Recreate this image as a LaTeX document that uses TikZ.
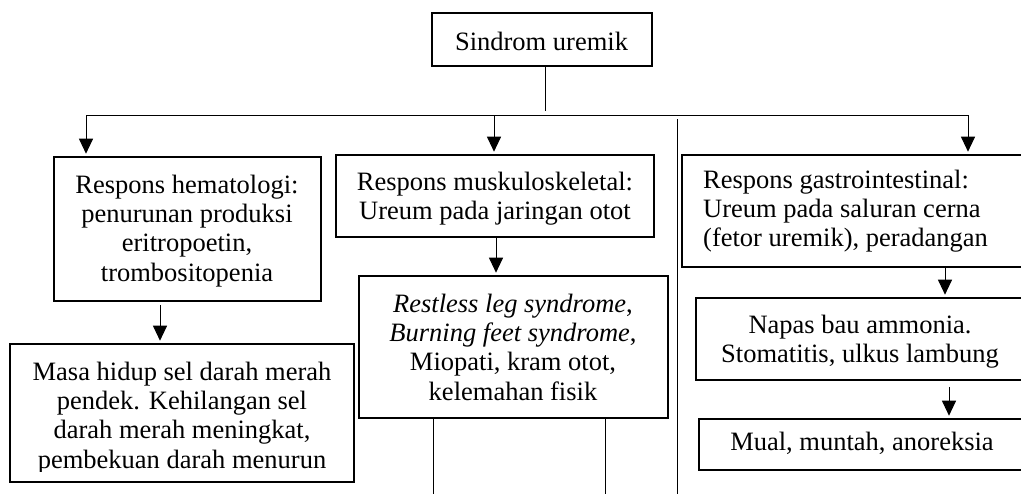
\documentclass[tikz,border=0pt]{standalone}
\usepackage{fontspec}
\setmainfont{Liberation Serif}
\usetikzlibrary{arrows.meta}
\begin{document}
\begin{tikzpicture}[x=1pt,y=-1pt,
  box/.style={draw, line width=1.6pt, inner sep=0pt},
  txt/.style={inner sep=0pt, anchor=north, align=center, font=\fontsize{26.5}{29.3}\selectfont},
  conn/.style={line width=1pt},
  arr/.style={line width=1pt, -{Triangle[width=14pt,length=15pt]}, shorten >=2.5pt}]
\useasboundingbox (0,0) rectangle (1021,498);
\clip (0,0) rectangle (1021,498);
\fill[white] (0,0) rectangle (1021,498);

% boxes
\node[box, minimum width=220pt, minimum height=53pt]  (top)    at (542,39.5) {};
\node[box, minimum width=267pt, minimum height=144pt] (hem)    at (187.5,229) {};
\node[box, minimum width=344pt, minimum height=138pt] (masa)   at (182,413) {};
\node[box, minimum width=318pt, minimum height=82pt]  (musk)   at (495,196) {};
\node[box, minimum width=309pt, minimum height=142pt] (rest)   at (513.5,347) {};
\node[box, minimum width=358pt, minimum height=112pt] (gastro) at (861,211) {};
\node[box, minimum width=344pt, minimum height=82pt]  (napas)  at (868,339) {};
\node[box, minimum width=341pt, minimum height=51pt]  (mual)   at (869.5,444.5) {};

% texts
\node[txt] (topt) at (541.5,29.5) {\strut Sindrom uremik};
\node[txt] (hemt) at (187,172.5) {\strut Respons hematologi:\\penurunan produksi\\eritropoetin,\\trombositopenia};
\begin{scope}
\clip (0,0) rectangle (1021,471);
\node[txt] (masat) at (182,359.5) {\strut Masa hidup sel darah merah\\pendek. Kehilangan sel\\darah merah meningkat,\\pembekuan darah menurun};
\end{scope}
\node[txt] (muskt) at (495,169.5) {\strut Respons muskuloskeletal:\\Ureum pada jaringan otot};
\node[txt] (restt) at (513,291.5) {\strut\textit{Restless leg syndrome},\\\textit{Burning feet syndrome},\\Miopati, kram otot,\\kelemahan fisik};
\node[txt, anchor=north west, align=left] (gastrot) at (703,167.5) {\strut Respons gastrointestinal:\\Ureum pada saluran cerna\\(fetor uremik), peradangan};
\node[txt] (napast) at (860,312.5) {\strut Napas bau ammonia.\\Stomatitis, ulkus lambung};
\node[txt] (mualt) at (862,429.5) {\strut Mual, muntah, anoreksia};

% helper coordinates
\coordinate (j) at (545,111);
\coordinate (hl) at (86,115);
\coordinate (hm) at (494,115);
\coordinate (hr) at (968,115);
\coordinate (x160) at (160,0);
\coordinate (x496) at (496,0);
\coordinate (x945) at (945,0);
\coordinate (x949) at (949,0);
\coordinate (r1) at (433,494);
\coordinate (r2) at (605,494);
\coordinate (s1) at (677,119);
\coordinate (s2) at (677,494);

% connectors
\draw[conn] (top.south -| j) -- (j);
\draw[conn] (hl) -- (hr);
\draw[arr] (hl) -- (hl |- hem.north);
\draw[arr] (hm) -- (hm |- musk.north);
\draw[arr] (hr) -- (hr |- gastro.north);
\draw[arr, shorten <=3pt] (hem.south -| x160) -- (masa.north -| x160);
\draw[arr] (musk.south -| x496) -- (rest.north -| x496);
\draw[arr] (gastro.south -| x945) -- (napas.north -| x945);
\draw[arr, shorten <=6pt] (napas.south -| x949) -- (mual.north -| x949);
\draw[conn] (rest.south -| r1) -- (r1);
\draw[conn] (rest.south -| r2) -- (r2);
\draw[conn] (s1) -- (s2);
\end{tikzpicture}
\end{document}
